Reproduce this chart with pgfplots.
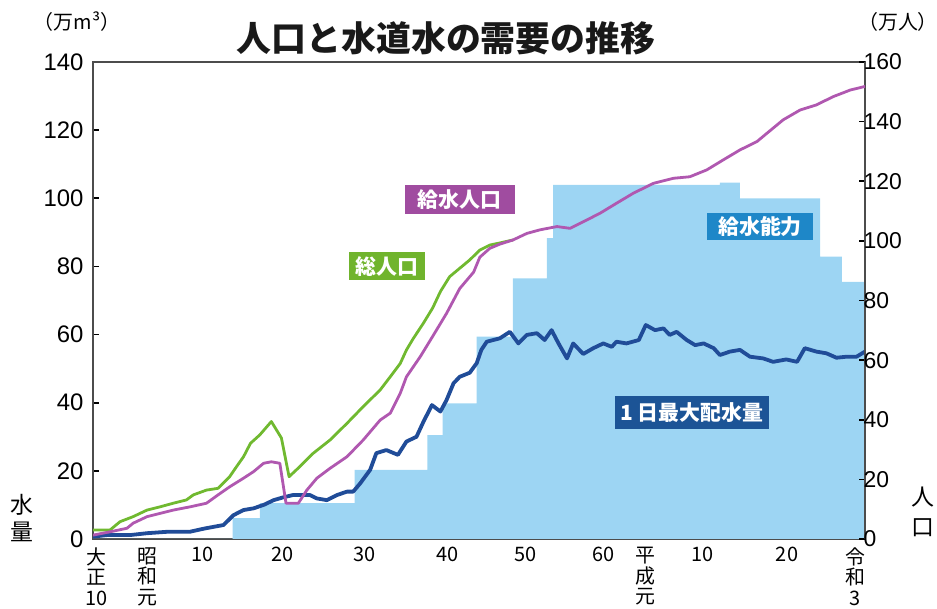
\documentclass[border=0pt]{standalone}
\usepackage{fontspec}
\setmainfont{Liberation Sans}
\newfontfamily\jp{Noto Sans CJK JP}
\usepackage{pgfplots}
\usepackage{pgfplotstable}
\pgfplotsset{compat=1.18}
\definecolor{areablue}{RGB}{157,213,243}
\definecolor{lineblue}{RGB}{32,76,152}
\definecolor{boxblue}{RGB}{28,84,150}
\definecolor{capblue}{RGB}{30,135,200}
\definecolor{ppl}{RGB}{176,88,176}
\definecolor{pplbox}{RGB}{160,76,160}
\definecolor{grn}{RGB}{112,185,48}
\definecolor{grnbox}{RGB}{112,180,45}

\pgfplotstableread{
x y
1921.0 0.7
1923.0 1.2
1926.0 1.2
1928.0 1.7
1930.5 2.1
1933.5 2.1
1935.5 3.1
1937.9 4.1
1939.2 7.0
1940.5 8.5
1941.8 9.0
1943.1 10.0
1944.4 11.4
1945.6 12.2
1946.9 12.9
1949.1 12.9
1950.0 11.9
1951.3 11.4
1952.6 12.9
1953.9 13.9
1954.7 13.9
1955.6 16.3
1956.9 20.3
1957.7 25.2
1959.0 26.1
1960.5 24.7
1961.6 28.6
1962.9 30.0
1963.8 34.4
1964.9 39.3
1966.0 37.4
1966.8 40.8
1967.7 45.7
1968.5 47.6
1969.8 48.8
1970.7 51.6
1971.3 55.5
1972.0 57.9
1973.7 58.9
1975.0 60.8
1976.1 57.4
1977.2 59.9
1978.5 60.4
1979.5 58.4
1980.4 61.3
1981.3 57.4
1982.4 53.0
1983.2 57.4
1984.5 54.3
1985.8 56.0
1987.1 57.4
1988.2 56.4
1988.8 57.9
1990.1 57.4
1991.7 58.4
1992.6 62.8
1993.8 61.3
1994.9 61.8
1995.7 59.9
1996.6 60.8
1997.9 58.4
1999.0 56.9
2000.1 57.4
2001.4 56.0
2002.2 54.0
2003.5 55.0
2004.8 55.5
2006.1 53.5
2007.8 53.0
2009.1 52.0
2010.8 52.7
2012.2 52.0
2013.2 56.0
2014.7 55.0
2016.0 54.5
2017.3 53.2
2018.6 53.5
2019.9 53.5
2021.0 55.0
}\maxflow

\pgfplotstableread{
x y
1921.0 0
1939.1 6.1
1942.6 10.5
1954.9 20.3
1964.3 30.5
1966.3 39.8
1970.7 59.4
1975.4 76.5
1979.8 88.3
1980.6 103.9
2002.2 104.6
2004.8 100.0
2015.2 82.9
2018.0 75.5
2021.0 75.5
}\capacity

\pgfplotstableread{
x y
1921.0 3.0
1923.2 3.0
1924.5 5.8
1926.2 7.5
1928.0 9.7
1929.7 10.8
1931.4 12.0
1933.1 13.1
1934.0 14.8
1935.7 16.4
1937.2 17.0
1938.7 20.9
1939.6 24.3
1940.5 27.6
1941.4 32.1
1942.6 34.9
1944.1 39.4
1945.4 33.9
1946.4 20.9
1947.8 24.3
1949.5 28.7
1951.7 33.2
1953.9 38.8
1956.0 44.4
1958.2 50.0
1959.5 54.4
1960.8 58.9
1961.6 63.4
1962.5 67.3
1963.8 72.4
1965.0 77.5
1966.0 83.0
1967.2 88.0
1968.5 90.8
1969.8 93.6
1971.1 96.9
1972.4 98.6
1973.7 99.3
1975.4 100.3
}\totalpop

\pgfplotstableread{
x y
1921.0 1.3
1923.2 2.4
1925.4 3.6
1926.2 5.3
1928.0 7.5
1929.7 8.6
1931.4 9.7
1933.6 10.8
1935.7 12.0
1937.2 14.8
1938.7 17.5
1940.5 20.4
1941.8 22.6
1943.1 25.4
1944.1 25.9
1945.2 25.4
1946.0 12.0
1947.6 12.0
1948.7 16.4
1950.0 20.4
1951.7 23.7
1953.9 27.6
1956.0 33.2
1958.2 39.9
1959.5 42.2
1960.8 48.9
1961.6 54.4
1963.4 61.2
1965.1 68.4
1966.8 75.7
1968.5 84.0
1970.3 89.5
1971.1 94.5
1972.4 97.5
1973.7 98.9
1975.4 100.3
1977.2 102.5
1978.9 103.7
1981.1 104.8
1982.8 104.2
1984.5 106.4
1986.7 109.3
1988.8 112.6
1991.0 116.0
1993.6 119.3
1996.2 121.0
1998.3 121.5
2000.5 123.8
2002.6 127.1
2004.8 130.5
2007.0 133.3
2008.3 136.1
2010.4 140.6
2012.6 143.9
2014.7 145.6
2016.9 148.4
2019.1 150.6
2021.0 151.8
}\servedpop

\begin{document}
\begin{tikzpicture}[x=1bp,y=1bp]
\useasboundingbox (0,0) rectangle (937,609);
\begin{axis}[
  at={(93bp,70bp)}, anchor=south west, scale only axis,
  width=772bp, height=477bp,
  xmin=1921, xmax=2021, ymin=0, ymax=140,
  axis line style={draw=black!70, line width=1.3bp},
  ytick={0,20,...,140}, ytick pos=left,
  tick align=inside, major tick length=6bp,
  tick style={black, line width=1.6bp},
  major x tick style=transparent,
  xtick={1921.5,1928.0,1935.2,1945.5,1956.2,1966.9,1977.0,1987.1,1992.5,2000.0,2010.9,2019.7},
  xticklabels={{大\\正\\10},{昭\\和\\元},10,20,30,40,50,60,{平\\成\\元},10,20,{令\\和\\3}},
  xticklabel style={font=\jp\fontsize{20}{20.5}\selectfont, align=center, anchor=north, yshift=-5bp},
  yticklabel style={font=\fontsize{24}{24}\selectfont, xshift=-6bp},
  /pgf/number format/assume math mode=true,
]
\addplot[const plot, fill=areablue, draw=none] table {\capacity} \closedcycle;
\addplot[lineblue, line width=3.8bp, line join=round] table {\maxflow};
\node[fill=capblue, text=white, font=\jp\bfseries\fontsize{21}{21}\selectfont, minimum width=106bp, minimum height=27bp, inner sep=0pt] at (axis cs:2007.4,91.7) {給水能力};
\node[fill=boxblue, text=white, font=\jp\bfseries\fontsize{21}{21}\selectfont, minimum width=154bp, minimum height=33bp, inner sep=0pt] at (axis cs:1998.6,37.1) {1\hspace{4bp}日最大配水量};
\node[fill=pplbox, text=white, font=\jp\bfseries\fontsize{21}{21}\selectfont, minimum width=110bp, minimum height=29bp, inner sep=0pt] at (axis cs:1968.5,99.5) {給水人口};
\node[fill=grnbox, text=white, font=\jp\bfseries\fontsize{21}{21}\selectfont, minimum width=76bp, minimum height=28bp, inner sep=0pt] at (axis cs:1959.1,80.1) {総人口};
\end{axis}
\begin{axis}[
  at={(93bp,70bp)}, anchor=south west, scale only axis,
  width=772bp, height=477bp,
  xmin=1921, xmax=2021, ymin=0, ymax=160,
  axis x line=none, axis y line*=right,
  axis line style={draw=black!70, line width=1.3bp},
  ytick={0,20,...,160},
  tick align=inside, major tick length=6bp,
  tick style={black, line width=1.6bp},
  yticklabel style={font=\fontsize{23}{23}\selectfont, xshift=-5bp},
  /pgf/number format/assume math mode=true,
]
\addplot[grn, line width=2.8bp, line join=round] table {\totalpop};
\addplot[ppl, line width=2.8bp, line join=round] table {\servedpop};
\end{axis}
\node[font=\jp\bfseries\fontsize{35}{35}\selectfont, text=black!90] at (446,571) {人口と水道水の需要の推移};
\node[font=\jp\fontsize{20}{20}\selectfont] at (77,587) {（万m³）};
\node[font=\jp\fontsize{20}{20}\selectfont] at (898,587) {（万人）};
\node[font=\jp\fontsize{23}{23}\selectfont] at (22,104) {水};
\node[font=\jp\fontsize{23}{23}\selectfont] at (22,77) {量};
\node[font=\jp\fontsize{23}{23}\selectfont] at (923,112) {人};
\node[font=\jp\fontsize{23}{23}\selectfont] at (923,81) {口};
\end{tikzpicture}
\end{document}
